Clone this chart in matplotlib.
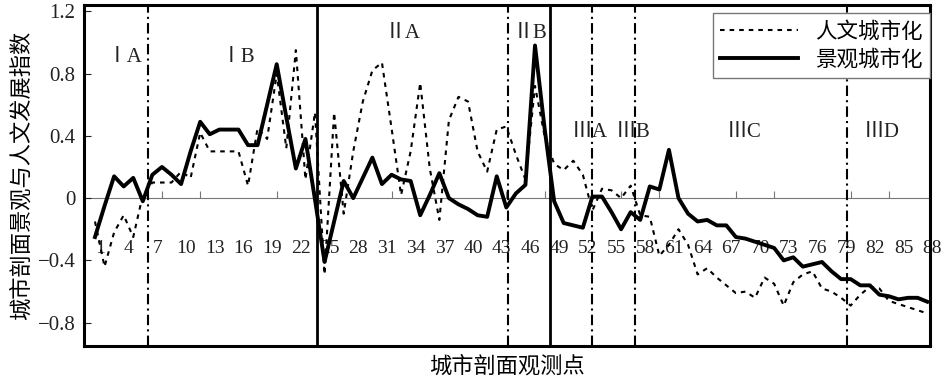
import matplotlib
matplotlib.use('Agg')
import matplotlib.pyplot as plt
import matplotlib.transforms as mtransforms
import numpy as np
from matplotlib.ticker import FixedLocator

plt.rcParams['font.family'] = ['Liberation Serif', 'Noto Sans CJK SC', 'DejaVu Sans']

# observation points along the urban profile
points = np.arange(1, 89)

# 人文城市化 (dashed)
renwen = [-0.15, -0.44, -0.22, -0.11, -0.25, 0.02, 0.10, 0.10, 0.10, 0.17,
          0.13, 0.42, 0.30, 0.30, 0.30, 0.30, 0.08, 0.45, 0.38, 0.80,
          0.32, 0.95, 0.12, 0.55, -0.49, 0.55, -0.10, 0.30, 0.62, 0.82,
          0.87, 0.45, 0.02, 0.30, 0.74, 0.19, -0.14, 0.50, 0.65, 0.62,
          0.30, 0.17, 0.44, 0.46, 0.28, 0.12, 0.72, 0.40, 0.22, 0.18,
          0.24, 0.15, -0.08, 0.06, 0.05, 0.00, 0.08, -0.11, -0.12, -0.37,
          -0.30, -0.20, -0.30, -0.49, -0.45, -0.51, -0.56, -0.61, -0.60, -0.64,
          -0.51, -0.55, -0.69, -0.54, -0.49, -0.47, -0.58, -0.60, -0.64, -0.69,
          -0.62, -0.57, -0.58, -0.66, -0.68, -0.70, -0.72, -0.74]

# 景观城市化 (solid)
jingguan = [-0.25, -0.05, 0.14, 0.075, 0.13, -0.02, 0.15, 0.20, 0.15, 0.09,
            0.30, 0.49, 0.41, 0.44, 0.44, 0.44, 0.34, 0.34, 0.60, 0.86,
            0.52, 0.19, 0.38, -0.01, -0.41, -0.15, 0.11, 0.00, 0.13, 0.26,
            0.09, 0.15, 0.12, 0.11, -0.11, 0.02, 0.16, 0.00, -0.04, -0.07,
            -0.11, -0.12, 0.14, -0.06, 0.03, 0.085, 0.98, 0.45, -0.02, -0.16,
            -0.175, -0.19, 0.01, 0.01, -0.09, -0.20, -0.09, -0.14, 0.075, 0.055,
            0.31, 0.00, -0.10, -0.15, -0.14, -0.175, -0.175, -0.25, -0.26, -0.28,
            -0.30, -0.32, -0.40, -0.38, -0.44, -0.425, -0.41, -0.47, -0.52, -0.52,
            -0.56, -0.56, -0.62, -0.63, -0.65, -0.64, -0.64, -0.665]

xtick_values = list(range(1, 89, 3))
ytick_values = [-0.8, -0.4, 0, 0.4, 0.8, 1.2]
ytick_labels = ['\u22120.8', '\u22120.4', '0', '0.4', '0.8', '1.2']

# zone boundaries
major_bounds = [24.2, 48.6]
minor_bounds = [6.5, 44.2, 53.0, 57.5, 79.6]
zone_names = ['ⅠA', 'ⅠB', 'ⅡA', 'ⅡB', 'ⅢA', 'ⅢB', 'ⅢC', 'ⅢD']
zone_x = [4.1, 15.9, 33.2, 46.5, 52.7, 57.3, 68.9, 83.3]
zone_y = [0.90, 0.90, 1.06, 1.06, 0.42, 0.42, 0.42, 0.42]

y_min, y_max = -0.95, 1.24

fig = plt.figure(figsize=(9.51, 3.82), dpi=100)
ax = fig.add_axes([0.0883, 0.094, 0.8897, 0.893])

ax.plot(points, renwen, color='black', linewidth=1.5, linestyle=(0, (2.2, 2.4)), label='人文城市化')
ax.plot(points, jingguan, color='black', linewidth=2.8, label='景观城市化')

for b in major_bounds:
    ax.axvline(b, color='black', linewidth=2.0)
for b in minor_bounds:
    ax.axvline(b, color='black', linewidth=1.5, linestyle=(0, (5, 2, 1, 2)))

for name, zx, zy in zip(zone_names, zone_x, zone_y):
    ax.text(zx, zy, name, fontsize=15, ha='center', va='center', color='#222222')

ax.set_xlim(-0.15, 88.3)
ax.set_ylim(y_min, y_max)

# frame
for sp in ax.spines.values():
    sp.set_linewidth(2.2)
    sp.set_color('black')

ax.set_xticks([])
ax.set_yticks(ytick_values)
ax.set_yticklabels(ytick_labels)
ax.tick_params(axis='y', direction='in', length=5, width=0.8, labelsize=15, pad=6, colors='#222222')

# category axis drawn on the zero line
sec = ax.secondary_xaxis(-y_min / (y_max - y_min))
sec.xaxis.set_ticks_position('bottom')
sec.spines['bottom'].set_color('#777777')
sec.spines['bottom'].set_linewidth(0.8)
sec.set_xticks(xtick_values)
sec.xaxis.set_minor_locator(FixedLocator(list(range(4, 89, 4))))
sec.tick_params(which='major', length=0, pad=30, labelsize=14, colors='#222222')
sec.tick_params(which='minor', direction='in', length=5, width=0.8, color='#777777')

# labels in the source sit a few pixels right of their points
shift = mtransforms.ScaledTranslation(5 / 100, 0, fig.dpi_scale_trans)
for lbl in sec.get_xticklabels():
    lbl.set_transform(lbl.get_transform() + shift)

ax.set_xlabel('城市剖面观测点', fontsize=16, labelpad=6, family=['Noto Sans CJK SC'])
ax.set_ylabel('城市剖面景观与人文发展指数', fontsize=16, labelpad=4, family=['Noto Sans CJK SC'])

leg = ax.legend(loc='upper right', bbox_to_anchor=(1.0, 0.975),
                handlelength=3.6, fancybox=False, framealpha=1, borderaxespad=0,
                prop={'family': ['Noto Sans CJK SC'], 'size': 15.5},
                labelspacing=0.25, borderpad=0.35)
leg.get_frame().set_edgecolor('#777777')
leg.get_frame().set_linewidth(1.0)

plt.savefig('out.png', dpi=100)
plt.close()
